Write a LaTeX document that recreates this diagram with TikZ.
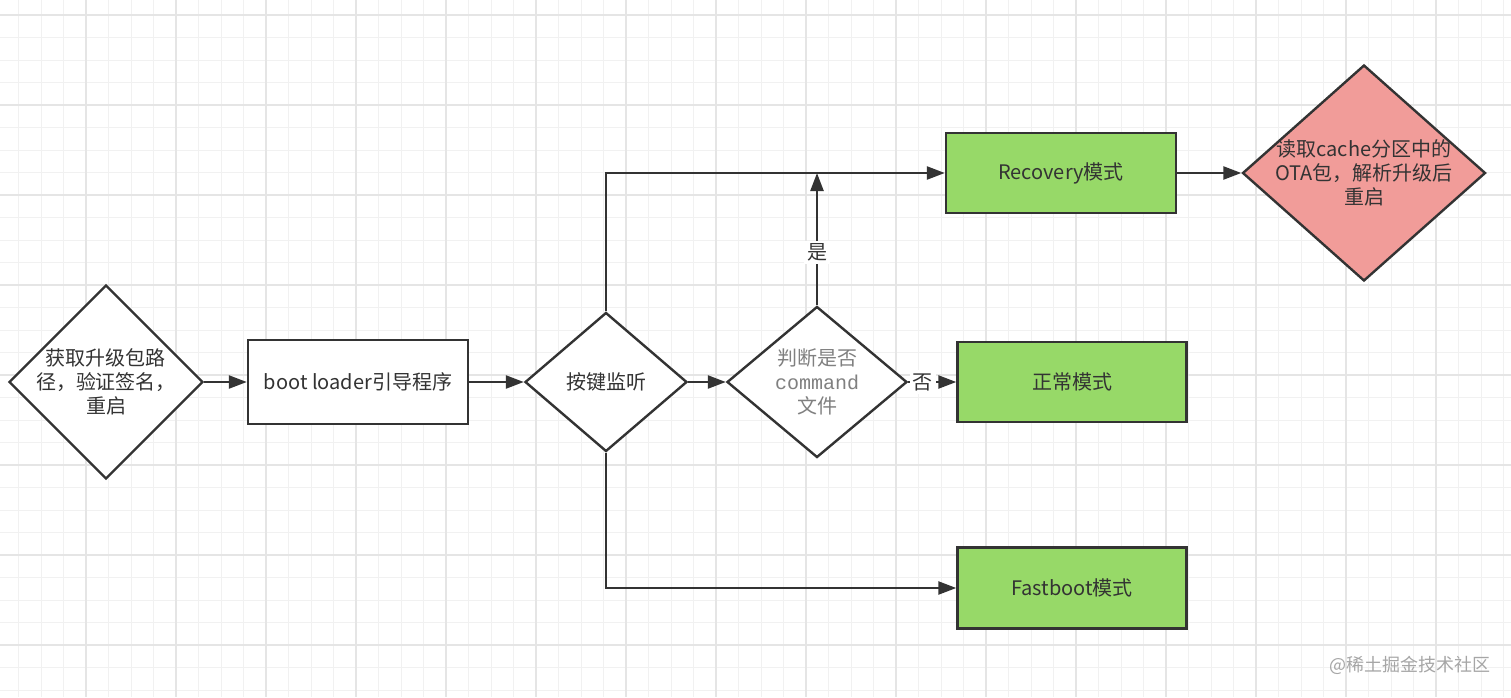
\documentclass[tikz,border=0pt]{standalone}
\usepackage{fontspec}
\setmainfont{Noto Sans CJK SC}
\newfontfamily\codefont{Liberation Mono}
\usetikzlibrary{shapes.geometric,arrows.meta}

\definecolor{boxgreen}{HTML}{97D968}
\definecolor{boxred}{HTML}{F19C99}
\definecolor{gridminor}{HTML}{F1F1F1}
\definecolor{gridmajor}{HTML}{E5E5E5}
\definecolor{inkgray}{HTML}{333333}

\begin{document}
\begin{tikzpicture}[x=0.5pt,y=-0.5pt,
        every node/.style={font=\fontsize{10}{12}\selectfont,text=inkgray},
        flowbox/.style={draw=inkgray,line width=1.2pt,rectangle,align=center,inner sep=0pt},
        flowdiamond/.style={draw=inkgray,line width=1.2pt,diamond,align=center,inner sep=0pt},
        flowarrow/.style={draw=inkgray,line width=1.2pt,-{Triangle[length=9pt,width=6.5pt]}},
        edgelabel/.style={fill=white,inner sep=1.5pt}]
        \useasboundingbox[fill=white] (0,0) rectangle (1511,697);

        % background grid
        \foreach \gx in {18.5,41,...,1511} \draw[gridminor,line width=0.5pt] (\gx,0) -- (\gx,697);
        \foreach \gy in {15,37.5,...,697} \draw[gridminor,line width=0.5pt] (0,\gy) -- (1511,\gy);
        \foreach \gx in {86,176,...,1511} \draw[gridmajor,line width=0.6pt] (\gx,0) -- (\gx,697);
        \foreach \gy in {15,105,...,697} \draw[gridmajor,line width=0.6pt] (0,\gy) -- (1511,\gy);

        % nodes
        \node[flowdiamond,fill=white,inner xsep=-10pt,minimum width=97pt,minimum height=97pt] (getpkg) at (106,382) {获取升级包路\\径，验证签名，\\重启};
        \node[flowbox,fill=white,minimum width=110pt,minimum height=42pt] (bootldr) at (358,382) {boot loader引导程序};
        \node[flowdiamond,fill=white,aspect=1.17,minimum width=81pt,minimum height=69.5pt] (keylisten) at (606,382) {按键监听};
        \node[flowdiamond,fill=white,aspect=1.2,inner xsep=-4pt,minimum width=90pt,minimum height=75.5pt,text=gray] (checkcmd) at (817,382) {判断是否\\{\codefont command}\\文件};
        \node[flowbox,fill=boxgreen,minimum width=115pt,minimum height=40pt] (recovery) at (1061,173) {Recovery模式};
        \node[flowdiamond,fill=boxred,aspect=1.12,inner xsep=-10pt,minimum width=121.5pt,minimum height=108pt] (otaflash) at (1364,173) {读取cache分区中的\\OTA包，解析升级后\\重启};
        \node[flowbox,fill=boxgreen,minimum width=114.5pt,minimum height=40pt] (normal) at (1072,382) {正常模式};
        \node[flowbox,fill=boxgreen,minimum width=114.5pt,minimum height=40.5pt] (fastboot) at (1072,588) {Fastboot模式};

        % connectors
        \draw[flowarrow] (getpkg) -- (bootldr);
        \draw[flowarrow] (bootldr) -- (keylisten);
        \draw[flowarrow] (keylisten) -- (checkcmd);
        \draw[flowarrow] (checkcmd) -- node[edgelabel,pos=0.3] {否} (normal);
        \draw[flowarrow] (checkcmd.north) -- node[edgelabel,pos=0.4] {是} (checkcmd.north |- recovery.west);
        \draw[flowarrow] (keylisten.north) |- (recovery.west);
        \draw[flowarrow] (keylisten.south) |- (fastboot.west);
        \draw[flowarrow] (recovery.east) -- (otaflash.west);

        \node[text=gray!70,font=\fontsize{9}{11}\selectfont] (mark) at (1410,665) {@稀土掘金技术社区};
\end{tikzpicture}
\end{document}
